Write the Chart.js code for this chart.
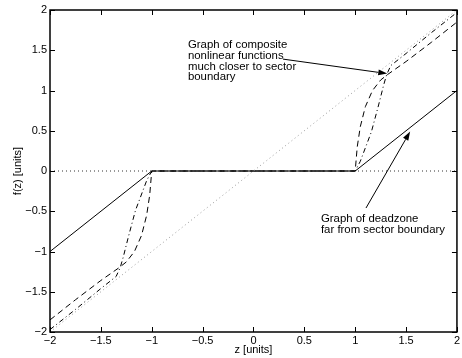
<!DOCTYPE html>
<html>
<head>
<meta charset="utf-8">
<script src="https://cdn.jsdelivr.net/npm/chart.js@4/dist/chart.umd.min.js"></script>
<style>
  body { margin: 0; background: #fff; }
  canvas { display: block; }
</style>
</head>
<body>
<canvas id="chart" width="462" height="358"></canvas>
<script>
// ==========================================
// DATA
// ==========================================

// deadzone nonlinearity
const deadzoneZ = [-2, -1, 1, 2];
const deadzoneF = [-1, 0, 0, 1];

// sector boundary f(z) = z
const sectorZ = [-2, 2];
const sectorF = [-2, 2];

// zero line
const zeroZ = [-2, 2];
const zeroF = [0, 0];

// composite nonlinear function #1 (dashed)
const dashedZ = [-2, -1.75, -1.5, -1.32, -1.25, -1.17, -1.1, -1.05, -1.02, -1, 1, 1.02, 1.05, 1.1, 1.17, 1.25, 1.32, 1.5, 1.75, 2];
const dashedF = [-1.85, -1.6, -1.36, -1.2, -1.13, -1.0, -0.8, -0.55, -0.3, 0, 0, 0.3, 0.55, 0.8, 1.0, 1.13, 1.2, 1.36, 1.6, 1.85];

// composite nonlinear function #2 (dash-dot)
const dashDotZ = [-2, -1.75, -1.5, -1.35, -1.31, -1.28, -1.23, -1.16, -1.05, -1, 1, 1.05, 1.16, 1.23, 1.28, 1.31, 1.35, 1.5, 1.75, 2];
const dashDotF = [-1.97, -1.72, -1.46, -1.31, -1.2, -1.07, -0.82, -0.49, -0.12, 0, 0, 0.12, 0.49, 0.82, 1.07, 1.2, 1.31, 1.46, 1.72, 1.97];

// ticks
const xTicks = [-2, -1.5, -1, -0.5, 0, 0.5, 1, 1.5, 2];
const yTicks = [-2, -1.5, -1, -0.5, 0, 0.5, 1, 1.5, 2];

// annotations
const noteCompositeLines = ['Graph of composite', 'nonlinear functions', 'much closer to sector', 'boundary'];
const noteDeadzoneLines = ['Graph of deadzone', 'far from sector boundary'];

const FONT = '"Liberation Sans", Arial, Helvetica, sans-serif';

function pts(xs, ys) {
    return xs.map((x, i) => ({ x: x, y: ys[i] }));
}

function minusSign(v) {
    return String(v).replace('-', '\u2212');
}

// ==========================================
// PLUGIN: box, inward ticks, notes + arrows
// ==========================================
function arrow(ctx, x1, y1, x2, y2) {
    const ang = Math.atan2(y2 - y1, x2 - x1);
    const len = 9, half = 3;
    ctx.beginPath();
    ctx.moveTo(x1, y1);
    ctx.lineTo(x2 - Math.cos(ang) * len, y2 - Math.sin(ang) * len);
    ctx.stroke();
    ctx.beginPath();
    ctx.moveTo(x2, y2);
    ctx.lineTo(x2 - Math.cos(ang) * len - Math.sin(ang) * half, y2 - Math.sin(ang) * len + Math.cos(ang) * half);
    ctx.lineTo(x2 - Math.cos(ang) * len + Math.sin(ang) * half, y2 - Math.sin(ang) * len - Math.cos(ang) * half);
    ctx.closePath();
    ctx.fill();
}

const matlabFrame = {
    id: 'matlabFrame',
    afterDatasetsDraw(chart) {
        const { ctx, chartArea: a, scales: { x, y } } = chart;
        ctx.save();
        ctx.strokeStyle = '#000';
        ctx.fillStyle = '#000';

        // inward ticks on all four sides
        ctx.lineWidth = 1;
        ctx.beginPath();
        xTicks.forEach(v => {
            const px = Math.round(x.getPixelForValue(v)) + 0.5;
            ctx.moveTo(px, a.bottom); ctx.lineTo(px, a.bottom - 5);
            ctx.moveTo(px, a.top); ctx.lineTo(px, a.top + 5);
        });
        yTicks.forEach(v => {
            const py = Math.round(y.getPixelForValue(v)) + 0.5;
            ctx.moveTo(a.left, py); ctx.lineTo(a.left + 5, py);
            ctx.moveTo(a.right, py); ctx.lineTo(a.right - 5, py);
        });
        ctx.stroke();

        // box
        ctx.lineWidth = 1.5;
        ctx.strokeRect(a.left, a.top, a.right - a.left, a.bottom - a.top);

        // notes
        ctx.font = '11.4px ' + FONT;
        ctx.textAlign = 'left';
        ctx.textBaseline = 'middle';
        let tx = x.getPixelForValue(-0.644), ty = y.getPixelForValue(1.565);
        noteCompositeLines.forEach((t, i) => ctx.fillText(t, tx, ty + i * 10.7));
        tx = x.getPixelForValue(0.663); ty = y.getPixelForValue(-0.596);
        noteDeadzoneLines.forEach((t, i) => ctx.fillText(t, tx, ty + i * 10.5));

        // arrows
        ctx.lineWidth = 1;
        arrow(ctx, x.getPixelForValue(0.29), y.getPixelForValue(1.39),
                   x.getPixelForValue(1.315), y.getPixelForValue(1.21));
        arrow(ctx, x.getPixelForValue(1.106), y.getPixelForValue(-0.46),
                   x.getPixelForValue(1.54), y.getPixelForValue(0.49));
        ctx.restore();
    }
};

// ==========================================
// CHART
// ==========================================
const lineBase = { showLine: true, pointRadius: 0, fill: false, tension: 0, borderWidth: 1 };

new Chart(document.getElementById('chart'), {
    type: 'scatter',
    data: {
        datasets: [
            Object.assign({}, lineBase, { data: pts(sectorZ, sectorF), borderColor: '#9a9a9a', borderDash: [1, 3] }),
            Object.assign({}, lineBase, { data: pts(zeroZ, zeroF), borderColor: '#333', borderDash: [1, 3] }),
            Object.assign({}, lineBase, { data: pts(dashDotZ, dashDotF), borderColor: '#000', borderDash: [5, 3, 1, 3] }),
            Object.assign({}, lineBase, { data: pts(dashedZ, dashedF), borderColor: '#000', borderDash: [6, 4] }),
            Object.assign({}, lineBase, { data: pts(deadzoneZ, deadzoneF), borderColor: '#000' })
        ]
    },
    options: {
        responsive: false,
        animation: false,
        layout: { padding: { top: 10, right: 5, left: 0, bottom: 0 } },
        plugins: { legend: { display: false }, tooltip: { enabled: false } },
        scales: {
            x: {
                type: 'linear', min: -2, max: 2,
                afterBuildTicks: s => { s.ticks = xTicks.map(v => ({ value: v })); },
                afterFit: s => { s.height = 26; },
                grid: { display: false, drawTicks: false },
                border: { display: false },
                ticks: {
                    color: '#000', padding: 2, maxRotation: 0,
                    font: { family: FONT, size: 11 },
                    callback: v => minusSign(v)
                },
                title: {
                    display: true, text: 'z [units]', color: '#000',
                    font: { family: FONT, size: 11 }, padding: { top: 0, bottom: 1 }
                }
            },
            y: {
                type: 'linear', min: -2, max: 2,
                afterBuildTicks: s => { s.ticks = yTicks.map(v => ({ value: v })); },
                afterFit: s => { s.width = 50; },
                grid: { display: false, drawTicks: false },
                border: { display: false },
                ticks: {
                    color: '#000', padding: 3,
                    font: { family: FONT, size: 11 },
                    callback: v => minusSign(v)
                },
                title: {
                    display: true, text: 'f(z) [units]', color: '#000',
                    font: { family: FONT, size: 11 }, padding: { top: 11, bottom: 0 }
                }
            }
        }
    },
    plugins: [matlabFrame]
});
</script>
</body>
</html>
